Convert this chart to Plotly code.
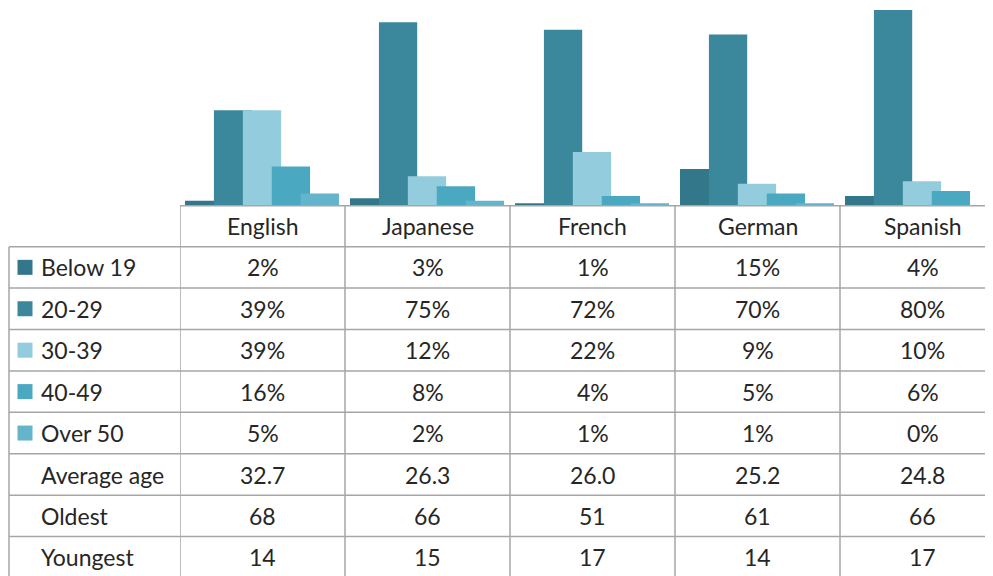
import plotly.graph_objects as go

languages = ["English", "Japanese", "French", "German", "Spanish"]
series_names = ["Below 19", "20-29", "30-39", "40-49", "Over 50"]
below_19 = [2, 3, 1, 15, 4]
age_20_29 = [39, 75, 72, 70, 80]
age_30_39 = [39, 12, 22, 9, 10]
age_40_49 = [16, 8, 4, 5, 6]
over_50 = [5, 2, 1, 1, 0]
average_age = ["32.7", "26.3", "26.0", "25.2", "24.8"]
oldest = [68, 66, 51, 61, 66]
youngest = [14, 15, 17, 14, 17]

series_values = [below_19, age_20_29, age_30_39, age_40_49, over_50]
colors = ["#33788a", "#3b889c", "#93cddd", "#4ba8c1", "#64b4cc"]

# page body has an 8px margin; lay out the figure in reference-pixel terms
OFF = 8
W, H = 1005 - OFF, 576 - OFF
RIGHT = OFF + W  # reference-pixel x of the figure's right edge
base_px = 205.7
px_per_pct = 2.445
cat_px = 165.0
left_px = 180.0

def px(x):
    return (x - OFF) / W

def py(y):
    return 1 - (y - OFF) / H

fig = go.Figure()
bar_w = 0.232
first_off = -0.4697
step = 0.1753
for i, (name, vals) in enumerate(zip(series_names, series_values)):
    fig.add_trace(go.Bar(
        x=languages, y=vals, name=name,
        marker=dict(color=colors[i], line=dict(width=0)),
        offset=first_off + i * step, width=bar_w,
        showlegend=False, hoverinfo="x+y+name",
    ))

fig.update_layout(
    barmode="overlay",
    width=W, height=H, autosize=False,
    margin=dict(l=0, r=0, t=0, b=0),
    paper_bgcolor="white", plot_bgcolor="white",
    font=dict(family="Lato, Calibri, sans-serif", size=23, color="#262626"),
    xaxis=dict(domain=[px(left_px), 1], range=[-0.5, -0.5 + (RIGHT - left_px) / cat_px],
               showticklabels=False, showgrid=False, zeroline=False, showline=False,
               type="category", fixedrange=True),
    yaxis=dict(domain=[py(base_px), 1], range=[0, (base_px - OFF) / px_per_pct],
               showticklabels=False, showgrid=False, zeroline=False, showline=False,
               fixedrange=True),
)

row_lines = [205.7, 246.7, 288.0, 329.5, 370.9, 412.3, 453.8, 495.2, 536.6, 578.0]
grid = "#a6a6a6"
shapes = []
shapes.append(dict(type="line", xref="paper", yref="paper", x0=px(left_px), x1=1,
                   y0=py(row_lines[0]), y1=py(row_lines[0]), line=dict(color=grid, width=1.5)))
for r in row_lines[1:]:
    shapes.append(dict(type="line", xref="paper", yref="paper", x0=px(9), x1=1,
                       y0=py(r), y1=py(r), line=dict(color=grid, width=1.5)))
shapes.append(dict(type="line", xref="paper", yref="paper", x0=px(9), x1=px(9),
                   y0=py(row_lines[1]), y1=0, line=dict(color=grid, width=1.5)))
for k in range(len(languages) + 1):
    shapes.append(dict(type="line", xref="x", yref="paper", x0=k - 0.5, x1=k - 0.5,
                       y0=py(row_lines[0]), y1=0, line=dict(color=grid, width=1.5)))

annotations = []
centers = [(row_lines[i] + row_lines[i + 1]) / 2 for i in range(len(row_lines) - 1)]
for lang in languages:
    annotations.append(dict(x=lang, y=py(centers[0]), xref="x", yref="paper", text=lang,
                            showarrow=False, xanchor="center", yanchor="middle"))
row_labels = series_names + ["Average age", "Oldest", "Youngest"]
row_data = [[f"{v}%" for v in s] for s in series_values] + [average_age,
            [str(v) for v in oldest], [str(v) for v in youngest]]
for ri, (lab, vals) in enumerate(zip(row_labels, row_data)):
    yc = py(centers[ri + 1])
    annotations.append(dict(x=px(39), y=yc, xref="paper", yref="paper", text=lab,
                            showarrow=False, xanchor="left", yanchor="middle"))
    for lang, v in zip(languages, vals):
        annotations.append(dict(x=lang, y=yc, xref="x", yref="paper", text=v,
                                showarrow=False, xanchor="center", yanchor="middle"))
    if ri < len(series_names):
        cy = centers[ri + 1]
        shapes.append(dict(type="rect", xref="paper", yref="paper",
                           x0=px(17.5), x1=px(32.5), y0=py(cy + 7.5), y1=py(cy - 7.5),
                           fillcolor=colors[ri], line=dict(width=0)))

fig.update_layout(shapes=shapes, annotations=annotations)
fig.write_html("out.html")
